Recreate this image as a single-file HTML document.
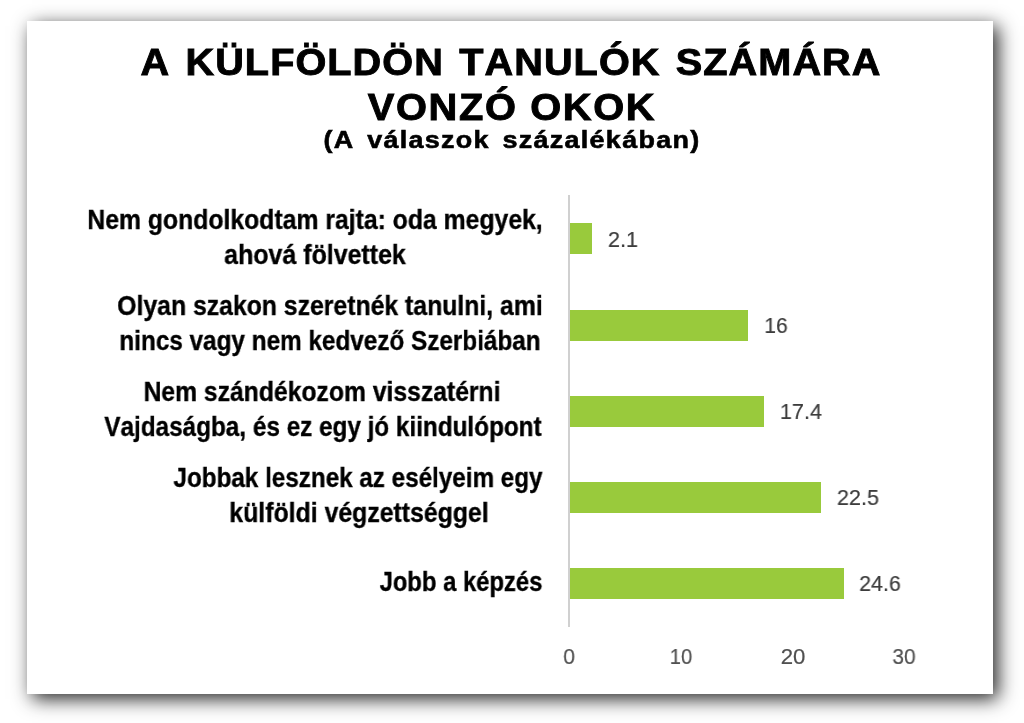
<!DOCTYPE html>
<html><head><meta charset="utf-8"><style>
html,body{margin:0;padding:0;background:#fff;width:1024px;height:723px;overflow:hidden;font-family:"Liberation Sans",sans-serif}
.card{position:absolute;left:27px;top:21px;width:966px;height:673px;background:#fff;box-shadow:5px 5px 18px rgba(0,0,0,0.85)}
.t{position:absolute;width:1000px;white-space:nowrap;text-align:center;transform-origin:50% 50%;will-change:transform;font-kerning:none}
.bar{position:absolute;background:#99ca3c}
.axis{position:absolute;background:#d0d0d0}
</style></head><body>
<div class="card"></div>
<div class="axis" style="left:568px;top:195px;width:2px;height:432px"></div>
<div class="bar" style="left:570px;top:223px;width:22.30px;height:31px"></div>
<div class="bar" style="left:570px;top:310px;width:177.80px;height:31px"></div>
<div class="bar" style="left:570px;top:396px;width:193.50px;height:31px"></div>
<div class="bar" style="left:570px;top:482px;width:250.60px;height:31px"></div>
<div class="bar" style="left:570px;top:568px;width:274.00px;height:31px"></div>
<div class="t" style="left:11.28px;top:44.24px;font-size:37.4px;line-height:37.4px;font-weight:700;color:#000;-webkit-text-stroke:0.9px #000;word-spacing:3px;letter-spacing:1.0px;transform:scaleX(1.0608)">A KÜLFÖLDÖN TANULÓK SZÁMÁRA</div>
<div class="t" style="left:12.28px;top:88.84px;font-size:37.4px;line-height:37.4px;font-weight:700;color:#000;-webkit-text-stroke:0.9px #000;letter-spacing:1.5px;transform:scaleX(1.0658)">VONZÓ OKOK</div>
<div class="t" style="left:12.15px;top:127.88px;font-size:24.6px;line-height:24.6px;font-weight:700;color:#000;-webkit-text-stroke:0.6px #000;word-spacing:3.5px;letter-spacing:1.2px;transform:scaleX(1.0941)">(A válaszok százalékában)</div>
<div class="t" style="left:-184.52px;top:205.74px;font-size:27.6px;line-height:27.6px;font-weight:700;color:#000;-webkit-text-stroke:0.35px #000;transform:scaleX(0.8974)">Nem gondolkodtam rajta: oda megyek,</div>
<div class="t" style="left:-184.88px;top:240.74px;font-size:27.6px;line-height:27.6px;font-weight:700;color:#000;-webkit-text-stroke:0.35px #000;transform:scaleX(0.9041)">ahová fölvettek</div>
<div class="t" style="left:-170.39px;top:291.84px;font-size:27.6px;line-height:27.6px;font-weight:700;color:#000;-webkit-text-stroke:0.35px #000;transform:scaleX(0.8980)">Olyan szakon szeretnék tanulni, ami</div>
<div class="t" style="left:-170.33px;top:327.04px;font-size:27.6px;line-height:27.6px;font-weight:700;color:#000;-webkit-text-stroke:0.35px #000;transform:scaleX(0.8805)">nincs vagy nem kedvező Szerbiában</div>
<div class="t" style="left:-177.64px;top:377.94px;font-size:27.6px;line-height:27.6px;font-weight:700;color:#000;-webkit-text-stroke:0.35px #000;transform:scaleX(0.8955)">Nem szándékozom visszatérni</div>
<div class="t" style="left:-177.41px;top:413.24px;font-size:27.6px;line-height:27.6px;font-weight:700;color:#000;-webkit-text-stroke:0.35px #000;transform:scaleX(0.8802)">Vajdaságba, és ez egy jó kiindulópont</div>
<div class="t" style="left:-142.36px;top:464.04px;font-size:27.6px;line-height:27.6px;font-weight:700;color:#000;-webkit-text-stroke:0.35px #000;transform:scaleX(0.8781)">Jobbak lesznek az esélyeim egy</div>
<div class="t" style="left:-141.08px;top:499.34px;font-size:27.6px;line-height:27.6px;font-weight:700;color:#000;-webkit-text-stroke:0.35px #000;transform:scaleX(0.8994)">külföldi végzettséggel</div>
<div class="t" style="left:-38.85px;top:568.24px;font-size:27.6px;line-height:27.6px;font-weight:700;color:#000;-webkit-text-stroke:0.35px #000;transform:scaleX(0.8635)">Jobb a képzés</div>
<div class="t" style="left:123.03px;top:229.10px;font-size:22px;line-height:22px;font-weight:400;color:#3c3c3c;-webkit-text-stroke:0.2px #3c3c3c;transform:scaleX(0.9855)">2.1</div>
<div class="t" style="left:275.58px;top:315.10px;font-size:22px;line-height:22px;font-weight:400;color:#3c3c3c;-webkit-text-stroke:0.2px #3c3c3c;transform:scaleX(0.9542)">16</div>
<div class="t" style="left:300.91px;top:401.08px;font-size:22px;line-height:22px;font-weight:400;color:#3c3c3c;-webkit-text-stroke:0.2px #3c3c3c;transform:scaleX(0.9788)">17.4</div>
<div class="t" style="left:357.60px;top:487.08px;font-size:22px;line-height:22px;font-weight:400;color:#3c3c3c;-webkit-text-stroke:0.2px #3c3c3c;transform:scaleX(0.9772)">22.5</div>
<div class="t" style="left:380.43px;top:573.08px;font-size:22px;line-height:22px;font-weight:400;color:#3c3c3c;-webkit-text-stroke:0.2px #3c3c3c;transform:scaleX(0.9663)">24.6</div>
<div class="t" style="left:68.76px;top:645.66px;font-size:22px;line-height:22px;font-weight:400;color:#505050;-webkit-text-stroke:0.2px #505050;transform:scaleX(0.9564)">0</div>
<div class="t" style="left:180.73px;top:645.58px;font-size:22px;line-height:22px;font-weight:400;color:#505050;-webkit-text-stroke:0.2px #505050;transform:scaleX(0.9223)">10</div>
<div class="t" style="left:292.99px;top:645.58px;font-size:22px;line-height:22px;font-weight:400;color:#505050;-webkit-text-stroke:0.2px #505050;transform:scaleX(1.0086)">20</div>
<div class="t" style="left:404.33px;top:645.79px;font-size:22px;line-height:22px;font-weight:400;color:#505050;-webkit-text-stroke:0.2px #505050;transform:scaleX(0.9486)">30</div>
</body></html>
